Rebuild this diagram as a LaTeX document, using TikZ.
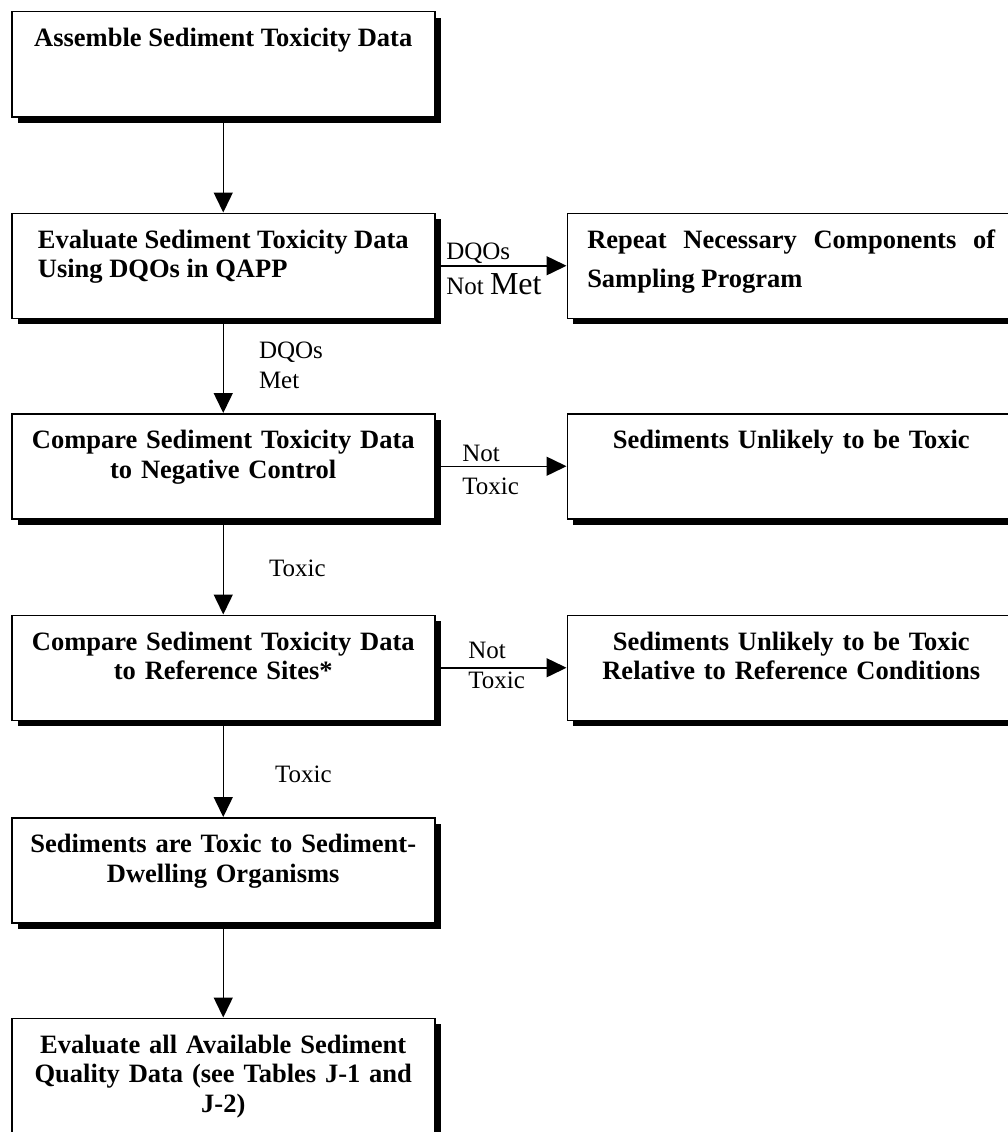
\documentclass[tikz,border=0pt]{standalone}
\usepackage{fontspec}
\setmainfont{Liberation Serif}
\usetikzlibrary{positioning,arrows.meta,shadows}

\tikzset{
  stepbox/.style={draw, line width=1.5pt, fill=white, inner xsep=0pt, inner ysep=0pt,
    minimum width=423pt, text width=410pt, text height=35pt, text depth=70pt,
    font=\fontsize{26.5pt}{29.5pt}\selectfont\bfseries,
    drop shadow={shadow xshift=6pt, shadow yshift=-6pt, fill=black, opacity=1}},
  leftbox/.style={stepbox, text width=, align=left},
  sidebox/.style={stepbox, minimum width=448pt, text width=408pt},
  flow/.style={-{Triangle[length=20pt,width=19pt]}, line width=1.5pt},
  lbl/.style={font=\fontsize{25pt}{30pt}\selectfont, inner sep=0pt, align=left}
}

\begin{document}
\begin{tikzpicture}
    \useasboundingbox (0,0) rectangle (1007pt,-1132pt);

    % Main column
    \node[leftbox, anchor=north west] (assemble) at (11pt,-11pt) {Assemble Sediment Toxicity Data};
    % two lines without text width: baseline sits on the last line
    \node[leftbox, text height=64.5pt, text depth=40.5pt, below=95pt of assemble] (evaluate) {Evaluate Sediment Toxicity Data\\Using DQOs in QAPP};
    \node[stepbox, align=center, below=94pt of evaluate] (negctl) {Compare Sediment Toxicity Data\\to Negative Control};
    \node[stepbox, align=center, below=95pt of negctl] (refsite) {Compare Sediment Toxicity Data\\to Reference Sites*};
    \node[stepbox, align=center, below=96pt of refsite] (toxic) {Sediments are Toxic to Sediment-\\Dwelling Organisms};
    \node[stepbox, align=center, text depth=85pt, below=94pt of toxic] (evalall) {Evaluate all Available Sediment\\Quality Data (see Tables J-1 and\\J-2)};

    % Side outcomes
    \node[sidebox, align=justify, font=\fontsize{26.5pt}{39pt}\selectfont\bfseries, right=131pt of evaluate] (repeat) {Repeat Necessary Components of\linebreak Sampling Program};
    \node[sidebox, align=center, right=131pt of negctl] (unlikely) {Sediments Unlikely to be Toxic};
    \node[sidebox, align=center, right=131pt of refsite] (unlikelyref) {Sediments Unlikely to be Toxic\\Relative to Reference Conditions};

    % Arrows
    \draw[flow] (assemble) -- (evaluate);
    \draw[flow] (evaluate) -- node[lbl, pos=0.49, right=35pt] {DQOs\\Met} (negctl);
    \draw[flow] (negctl) -- node[lbl, pos=0.51, right=45pt] {Toxic} (refsite);
    \draw[flow] (refsite) -- node[lbl, pos=0.56, right=51pt] {Toxic} (toxic);
    \draw[flow] (toxic) -- (evalall);

    \draw[flow] (evaluate) -- node[lbl, pos=0, anchor=base west, xshift=10pt, yshift=6pt] {DQOs}
        node[lbl, pos=0, anchor=base west, xshift=10pt, yshift=-29pt] {Not {\fontsize{32pt}{32pt}\selectfont Met}} (repeat);
    \draw[flow] (negctl) -- node[lbl, pos=0, anchor=base west, xshift=26pt, yshift=5pt] {Not}
        node[lbl, pos=0, anchor=base west, xshift=26pt, yshift=-28pt] {Toxic} (unlikely);
    \draw[flow] (refsite) -- node[lbl, pos=0, anchor=base west, xshift=32pt, yshift=9pt] {Not}
        node[lbl, pos=0, anchor=base west, xshift=32pt, yshift=-21pt] {Toxic} (unlikelyref);
\end{tikzpicture}
\end{document}
